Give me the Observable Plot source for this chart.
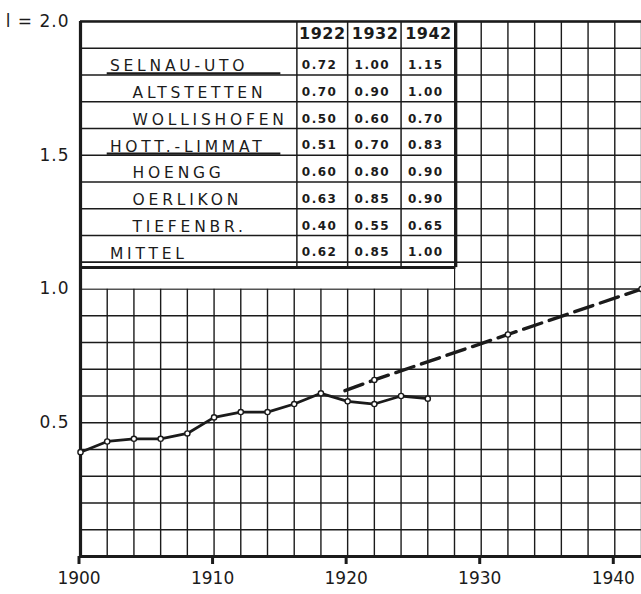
<!DOCTYPE html>
<html><head><meta charset="utf-8">
<script src="https://cdn.jsdelivr.net/npm/d3@7"></script>
<script src="https://cdn.jsdelivr.net/npm/@observablehq/plot@0.6"></script>
<style>
html,body{margin:0;padding:0;background:#fff;}
#chart svg{display:block;}
</style></head><body><div id="chart"></div>
<script>
// ---- data ----
const years = [1900,1902,1904,1906,1908,1910,1912,1914,1916,1918,1920,1922,1924,1926];
const values = [0.39,0.43,0.44,0.44,0.46,0.52,0.54,0.54,0.57,0.61,0.58,0.57,0.60,0.59];
const projYears = [1919.8,1922,1932,1942];
const projValues = [0.62,0.66,0.83,1.00];
const projMarkerYears = [1922,1932,1942];
const projMarkerValues = [0.66,0.83,1.00];
const xTicks = [1900,1910,1920,1930,1940];
const xTickLabels = ["1900","1910","1920","1930","1940"];
const yTicks = [0.5,1.0,1.5,2.0];
const yTickLabels = ["0.5","1.0","1.5","l = 2.0"];
const tableYears = ["1922","1932","1942"];
const stations = ["SELNAU-UTO","ALTSTETTEN","WOLLISHOFEN","HOTT.-LIMMAT","HOENGG","OERLIKON","TIEFENBR.","MITTEL"];
const v1922 = ["0.72","0.70","0.50","0.51","0.60","0.63","0.40","0.62"];
const v1932 = ["1.00","0.90","0.60","0.70","0.80","0.85","0.55","0.85"];
const v1942 = ["1.15","1.00","0.70","0.83","0.90","0.90","0.65","1.00"];

// ---- layout (in data units of the chart) ----
const ink = "#1b1b1b";
const gridX = d3.range(1900, 1943, 2);
const gridY = d3.range(1, 21).map(i => i / 10);
const tabL = 1900, tabR = 1928.1, tabT = 2.0, tabB = 1.08;
const colEdges = [1916.2, 1920, 1924];
const colCenters = [1917.9, 1921.85, 1925.85];
const rowLines = d3.range(1, 10).map(i => 2.0 - i / 10);
const majorRows = [0, 3];
const indent = [false, true, true, false, true, true, true, false];

const cells = [];
stations.forEach((s, i) => {
  [v1922, v1932, v1942].forEach((arr, j) => cells.push({x: colCenters[j], y: 1.85 - i / 10 - 0.014, t: arr[i]}));
});
const names = stations.map((s, i) => ({x: indent[i] ? 1903.9 : 1902.2, y: 1.85 - i / 10 - 0.018, t: s}));
const heads = tableYears.map((t, j) => ({x: colCenters[j] + 0.2, y: 1.952, t}));
const underl = majorRows.map(i => ({y: 1.8 - i / 10 + 0.006}));

const solid = years.map((x, i) => ({x, y: values[i]}));
const proj = projYears.map((x, i) => ({x, y: projValues[i]}));
const projPts = projMarkerYears.map((x, i) => ({x, y: projMarkerValues[i]}));

const chart = Plot.plot({
  width: 641, height: 594,
  marginLeft: 80, marginRight: 0, marginTop: 21, marginBottom: 38,
  x: {domain: [1900, 1942], label: null},
  y: {domain: [0, 2], label: null},
  style: {background: "#fff", color: ink, fontFamily: "DejaVu Sans"},
  marks: [
    // grid
    Plot.ruleX(gridX, {y1: 0, y2: 2, stroke: ink, strokeWidth: 1.4}),
    Plot.ruleY(gridY, {x1: 1900, x2: 1942, stroke: ink, strokeWidth: 1.4}),
    // table area
    Plot.rect([{}], {x1: tabL, x2: tabR - 0.1, y1: 1.0, y2: tabT, fill: "#fff"}),
    Plot.ruleY(rowLines, {x1: tabL, x2: tabR, stroke: ink, strokeWidth: 1.3}),
    Plot.ruleX(colEdges, {y1: tabB, y2: tabT, stroke: ink, strokeWidth: 1.5}),
    Plot.ruleX([tabR], {y1: tabB, y2: tabT, stroke: ink, strokeWidth: 3}),
    Plot.ruleY([tabB], {x1: tabL, x2: tabR, stroke: ink, strokeWidth: 3}),
    Plot.ruleY([1.1], {x1: tabL, x2: tabR, stroke: ink, strokeWidth: 1.6}),
    Plot.ruleY(underl, {y: "y", x1: 1902.0, x2: 1915.0, stroke: ink, strokeWidth: 2.4}),
    Plot.ruleY([2.0], {x1: 1900, x2: 1942, stroke: ink, strokeWidth: 2.4}),
    Plot.text(names, {x: "x", y: "y", text: "t", textAnchor: "start", fontSize: 15.5, fill: ink}),
    Plot.text(heads, {x: "x", y: "y", text: "t", fontSize: 16, fontWeight: "bold", fill: ink}),
    Plot.text(cells, {x: "x", y: "y", text: "t", fontSize: 12, fill: ink, fontWeight: "bold"}),
    // axes lines
    Plot.ruleY([0], {x1: 1900, x2: 1942, stroke: ink, strokeWidth: 3}),
    Plot.ruleX([1900], {y1: 0, y2: 2.0, stroke: ink, strokeWidth: 3.2}),
    Plot.axisX({ticks: xTicks, tickFormat: d => xTickLabels[xTicks.indexOf(d)], tickSize: 8, strokeWidth: 3, stroke: ink, tickPadding: 7, fontSize: 17, fill: ink, label: null, dx: -1.5}),
    Plot.axisY({ticks: yTicks, tickFormat: d => yTickLabels[yTicks.indexOf(d)], tickSize: 0, tickPadding: 11, fontSize: 17, fill: ink, label: null}),
    // data
    Plot.line(proj, {x: "x", y: "y", stroke: ink, strokeWidth: 3.4, strokeDasharray: "19,8"}),
    Plot.dot(projPts, {x: "x", y: "y", r: 2.6, stroke: ink, strokeWidth: 1.4, fill: "#fff"}),
    Plot.line(solid, {x: "x", y: "y", stroke: ink, strokeWidth: 2.8}),
    Plot.dot(solid, {x: "x", y: "y", r: 2.6, stroke: ink, strokeWidth: 1.4, fill: "#fff"})
  ]
});
document.getElementById("chart").appendChild(chart);
// letter spacing tweaks
const tg = chart.querySelectorAll('g[aria-label="text"]');
if (tg[0]) tg[0].style.letterSpacing = "3.8px";
if (tg[1]) tg[1].style.letterSpacing = "0.5px";
if (tg[2]) tg[2].style.letterSpacing = "1.5px";
chart.querySelectorAll('g[aria-label="y-axis tick label"]').forEach(g => g.style.letterSpacing = "1px");
</script></body></html>
